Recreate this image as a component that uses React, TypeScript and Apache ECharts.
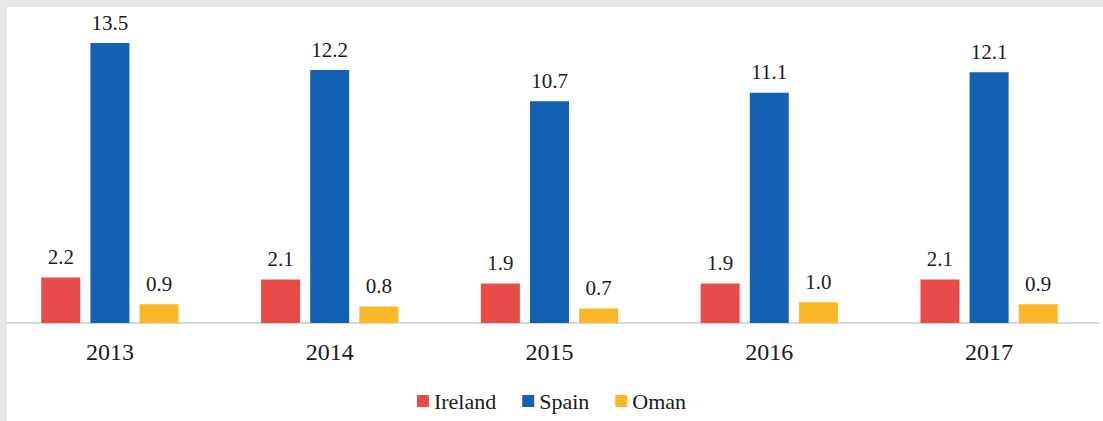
import React, { useEffect, useRef } from "react";
import * as echarts from "echarts";

const years = ["2013", "2014", "2015", "2016", "2017"];
const seriesNames = ["Ireland", "Spain", "Oman"];
const ireland = [2.2, 2.1, 1.9, 1.9, 2.1];
const spain = [13.5, 12.2, 10.7, 11.1, 12.1];
const oman = [0.9, 0.8, 0.7, 1.0, 0.9];
const colors = ["#e94a4a", "#1461b3", "#fbb728"];

const FONT = "Liberation Serif, Times New Roman, serif";

export default function App() {
  const ref = useRef<HTMLDivElement>(null);
  useEffect(() => {
    if (!ref.current) return;
    const chart = echarts.init(ref.current, undefined, { renderer: "svg" });
    const data = [ireland, spain, oman];
    chart.setOption({
      animation: false,
      color: colors,
      textStyle: { fontFamily: FONT },
      grid: { left: 0, right: 4, top: 12, bottom: 98 },
      legend: {
        bottom: 4,
        left: "center",
        itemWidth: 12,
        itemHeight: 12,
        itemGap: 26,
        icon: "rect",
        textStyle: { fontFamily: FONT, fontSize: 22, color: "#1a1a1a", fontWeight: "normal" },
        data: seriesNames,
      },
      xAxis: {
        type: "category",
        data: years,
        axisLine: { show: true, lineStyle: { color: "#c9cdd1", width: 1.5 } },
        axisTick: { show: false },
        axisLabel: { fontFamily: FONT, fontSize: 24, color: "#1a1a1a", margin: 17 },
      },
      yAxis: {
        type: "value",
        min: 0,
        max: 15,
        show: false,
        splitLine: { show: false },
      },
      series: seriesNames.map((name, i) => ({
        name,
        type: "bar",
        data: data[i],
        barWidth: 39,
        barGap: "26%",
        label: {
          show: true,
          position: "top",
          distance: 10,
          fontFamily: FONT,
          fontSize: 21,
          color: "#1a1a1a",
          formatter: (p: any) => Number(p.value).toFixed(1),
        },
      })),
    });
    return () => chart.dispose();
  }, []);
  return (
    <div style={{ position: "absolute", left: 0, top: 0, width: 1103, height: 421, background: "#fff" }}>
      <div ref={ref} style={{ position: "absolute", left: 0, top: 0, width: 1103, height: 421 }} />
      <div style={{ position: "absolute", left: 0, top: 0, width: 1103, height: 7, background: "#e5e6e8" }} />
      <div style={{ position: "absolute", left: 0, top: 0, width: 7, height: 421, background: "#e5e6e8" }} />
    </div>
  );
}
